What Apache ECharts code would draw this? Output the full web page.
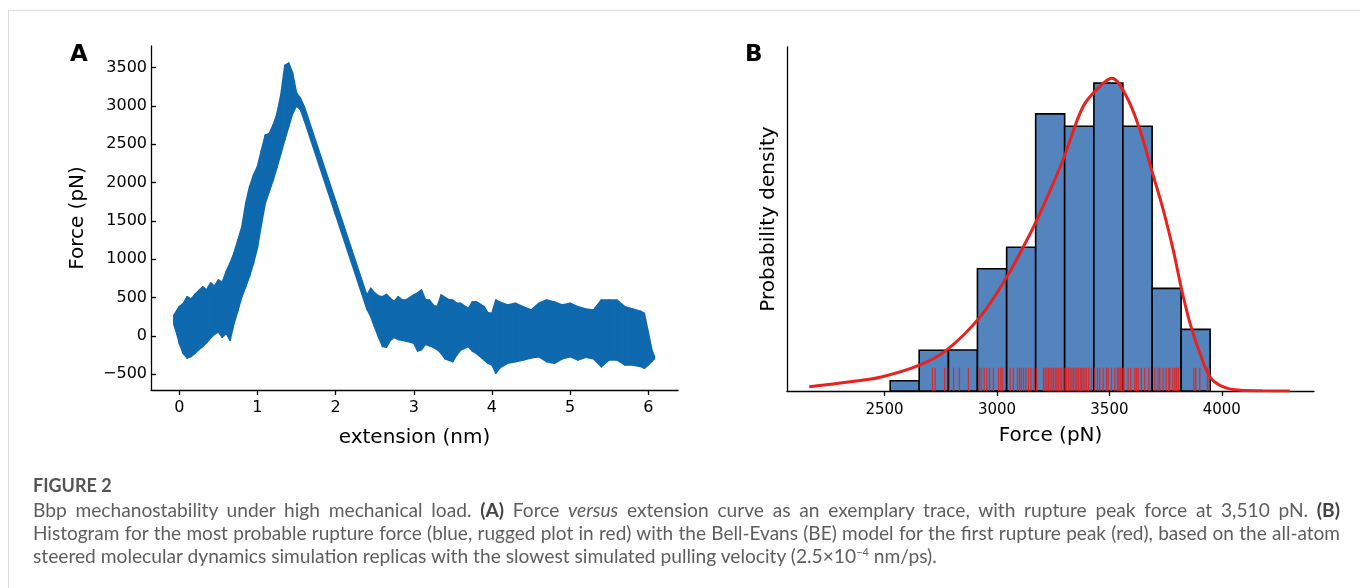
<!DOCTYPE html>
<html>
<head>
<meta charset="utf-8">
<script src="https://cdn.jsdelivr.net/npm/echarts@6/dist/echarts.min.js"></script>
<style>
  html, body { margin: 0; padding: 0; background: #fff; }
  #wrap { position: relative; width: 1360px; height: 588px; overflow: hidden; }
  #chart { position: absolute; left: 0; top: 0; width: 1360px; height: 588px; }
  #frame { position: absolute; left: 8px; top: 10px; width: 1400px; height: 700px;
           border-left: 1px solid #dcdcdc; border-top: 1px solid #dcdcdc; }
  .cap { position: absolute; left: 33px; font-family: Lato, "Open Sans", sans-serif;
         color: #5e5e5e; white-space: nowrap; font-size: 19.2px; line-height: 23px; }
  .cap.just { width: 1307px; white-space: normal; text-align: justify; text-align-last: justify; }
  .cap b { color: #444; }
  #figno { top: 474px; font-size: 18px; font-weight: bold; color: #555; }
</style>
</head>
<body>
<div id="wrap">
  <div id="frame"></div>
  <div id="chart"></div>
  <div class="cap" id="figno">FIGURE 2</div>
  <div class="cap just" style="top:498px">Bbp mechanostability under high mechanical load. <b>(A)</b> Force <i>versus</i> extension curve as an exemplary trace, with rupture peak force at 3,510 pN. <b>(B)</b></div>
  <div class="cap just" style="top:521px;font-size:19px">Histogram for the most probable rupture force (blue, rugged plot in red) with the Bell-Evans (BE) model for the first rupture peak (red), based on the all&#8209;atom</div>
  <div class="cap" style="top:544px">steered molecular dynamics simulation replicas with the slowest simulated pulling velocity (2.5×10<sup style="font-size:11px;line-height:0">−4</sup> nm/ps).</div>
</div>
<script>
// panel A: force trace, read as upper / lower envelope of the noisy band
var extension = [-0.07, -0.03, 0.0, 0.05, 0.1, 0.15, 0.2, 0.25, 0.3, 0.35, 0.4, 0.45, 0.5, 0.55, 0.6, 0.65, 0.7, 0.75, 0.8, 0.85,
  0.9, 0.95, 1.0, 1.05, 1.1, 1.15, 1.2, 1.25, 1.3, 1.35, 1.4, 1.45, 1.5, 1.55, 1.6, 2.0, 2.4, 2.45, 2.5, 2.55,
  2.6, 2.65, 2.7, 2.75, 2.8, 2.85, 2.9, 3.0, 3.05, 3.1, 3.15, 3.2, 3.25, 3.3, 3.35, 3.4, 3.45, 3.5, 3.55, 3.6,
  3.7, 3.75, 3.8, 3.9, 3.95, 4.0, 4.05, 4.1, 4.2, 4.3, 4.4, 4.5, 4.6, 4.7, 4.8, 4.9, 5.0, 5.1, 5.2, 5.3,
  5.4, 5.5, 5.6, 5.7, 5.8, 5.9, 5.95, 6.0, 6.05, 6.08];
var forceUpper = [270, 330, 380, 420, 510, 480, 540, 590, 640, 600, 690, 650, 730, 700, 840, 950, 1080, 1250, 1420, 1730,
  1950, 2100, 2210, 2420, 2620, 2640, 2750, 2900, 3150, 3530, 3560, 3430, 3170, 3100, 2990, 1760, 530, 620, 560, 520,
  511, 540, 490, 450, 511, 470, 468, 533, 560, 598, 470, 468, 400, 380, 533, 500, 470, 467, 424, 424,
  358, 445, 445, 380, 300, 293, 467, 440, 402, 424, 380, 337, 424, 467, 440, 402, 424, 380, 350, 337,
  467, 467, 467, 380, 350, 320, 293, 50, -200, -270];
var forceLower = [150, 20, -100, -230, -290, -270, -230, -180, -140, -90, -30, 20, 50, -20, 30, -60, 160, 330, 510, 640,
  780, 950, 1150, 1450, 1730, 1880, 2030, 2200, 2380, 2560, 2730, 2900, 3000, 2950, 2810, 1580, 350, 250, 110, -20,
  -140, -150, -60, -20, -50, -60, -70, -98, -200, -180, -110, -130, -150, -180, -229, -300, -320, -338, -250, -186,
  -142, -200, -229, -316, -360, -381, -490, -420, -360, -338, -316, -290, -273, -338, -360, -300, -273, -316, -280, -300,
  -403, -316, -316, -381, -381, -400, -425, -380, -330, -300];
var extTicks = [0, 1, 2, 3, 4, 5, 6];
var forceTicksA = [-500, 0, 500, 1000, 1500, 2000, 2500, 3000, 3500];

// panel B: histogram of rupture forces (pN), counts per bin
var binEdges = [2525, 2654, 2784, 2913, 3043, 3172, 3301, 3431, 3560, 3690, 3819, 3948];
var binCounts = [1, 4, 4, 12, 14, 27, 26, 30, 26, 10, 6];
// Bell-Evans fit, probability density in 1e-4 / pN
var beForce = [2165, 2348, 2481, 2658, 2777, 2925, 3044, 3133, 3192, 3294, 3383, 3458, 3511, 3577, 3636, 3688, 3740, 3784,
  3822, 3859, 3903, 3948, 4007, 4081, 4180, 4303];
var beDensity = [0.20, 0.44, 0.65, 1.23, 1.94, 3.50, 5.39, 7.13, 8.41, 10.92, 13.43, 14.39, 14.77, 13.88, 12.32, 10.42, 8.53, 6.65,
  4.76, 3.18, 1.77, 0.66, 0.19, 0.03, 0.01, 0.00];
// rug of individual rupture forces (pN)
var rugForce = [2713, 2725, 2767, 2788, 2807, 2833, 2873, 2921, 2930, 2943, 2955, 2967, 2984, 3007, 3017, 3026, 3059, 3073,
  3091, 3100, 3108, 3118, 3128, 3140, 3151, 3165, 3177, 3207, 3214, 3222, 3229, 3236, 3244, 3251, 3259, 3266, 3273, 3281,
  3288, 3296, 3303, 3310, 3318, 3325, 3333, 3340, 3348, 3355, 3362, 3370, 3376, 3383, 3391, 3398, 3408, 3420, 3435, 3447,
  3457, 3472, 3487, 3494, 3509, 3524, 3536, 3542, 3548, 3553, 3560, 3565, 3583, 3595, 3613, 3620, 3628, 3642, 3657, 3675,
  3702, 3716, 3724, 3739, 3753, 3764, 3768, 3782, 3791, 3798, 3807, 3876, 3884, 3902, 3936, 3944];
var forceTicksB = [2500, 3000, 3500, 4000];

var FONT = 'DejaVu Sans';
var traceColor = '#0f69ae';
var histColor = '#5484be';
var red = '#e8221e';

var total = binCounts.reduce(function (a, b) { return a + b; }, 0);
var histData = binCounts.map(function (c, i) {
  var w = binEdges[i + 1] - binEdges[i];
  return [binEdges[i], binEdges[i + 1], c / (total * w) * 1e4];
});
var rugTop = 1.1;

var chart = echarts.init(document.getElementById('chart'));

var axisLineStyle = { color: '#000', width: 1.3 };
var plain = function (v) { return v < 0 ? '\u2212' + Math.abs(v) : String(v); };

var option = {
  animation: false,
  grid: [
    { left: 151, top: 46, width: 527, height: 344 },
    { left: 787, top: 47, width: 527, height: 344 }
  ],
  graphic: [
    { type: 'text', left: 70, top: 44, style: { text: 'A', font: 'bold 23px "DejaVu Sans"', fill: '#000' } },
    { type: 'text', left: 745, top: 44, style: { text: 'B', font: 'bold 23px "DejaVu Sans"', fill: '#000' } }
  ],
  xAxis: [
    {
      gridIndex: 0, type: 'value', min: -0.362, max: 6.381,
      name: 'extension (nm)', nameLocation: 'middle', nameGap: 38,
      nameTextStyle: { fontSize: 20, color: '#000', fontFamily: FONT },
      axisLine: { show: true, onZero: false, lineStyle: axisLineStyle },
      axisTick: { show: true, customValues: extTicks, length: 5, lineStyle: axisLineStyle },
      axisLabel: { customValues: extTicks, fontSize: 16, color: '#000', fontFamily: FONT, margin: 10, formatter: plain },
      splitLine: { show: false }
    },
    {
      gridIndex: 1, type: 'value', min: 2066, max: 4410,
      name: 'Force (pN)', nameLocation: 'middle', nameGap: 35,
      nameTextStyle: { fontSize: 20, color: '#000', fontFamily: FONT },
      axisLine: { show: true, onZero: false, lineStyle: axisLineStyle },
      axisTick: { show: true, customValues: forceTicksB, length: 5, lineStyle: axisLineStyle },
      axisLabel: { customValues: forceTicksB, fontSize: 15, color: '#000', fontFamily: FONT, margin: 12, formatter: plain },
      splitLine: { show: false }
    }
  ],
  yAxis: [
    {
      gridIndex: 0, type: 'value', min: -708, max: 3783,
      name: 'Force (pN)', nameLocation: 'middle', nameGap: 63,
      nameTextStyle: { fontSize: 20, color: '#000', fontFamily: FONT },
      axisLine: { show: true, onZero: false, lineStyle: axisLineStyle },
      axisTick: { show: true, inside: true, customValues: forceTicksA, length: 5, lineStyle: axisLineStyle },
      axisLabel: { customValues: forceTicksA, fontSize: 16, color: '#000', fontFamily: FONT, margin: 4, formatter: plain },
      splitLine: { show: false }
    },
    {
      gridIndex: 1, type: 'value', min: 0, max: 16.24,
      name: 'Probability density', nameLocation: 'middle', nameGap: 8,
      nameTextStyle: { fontSize: 20, color: '#000', fontFamily: FONT },
      axisLine: { show: true, onZero: false, lineStyle: axisLineStyle },
      axisTick: { show: false },
      axisLabel: { show: false },
      splitLine: { show: false }
    }
  ],
  series: [
    {
      // noisy force trace as a filled band
      type: 'custom', xAxisIndex: 0, yAxisIndex: 0, clip: true,
      data: extension.map(function (e, i) { return [e, forceUpper[i], forceLower[i]]; }),
      encode: { x: 0, y: [1, 2] },
      renderItem: function (params, api) {
        var i = params.dataIndex;
        if (i >= extension.length - 1) return null;
        var pts = [
          api.coord([extension[i], forceUpper[i]]),
          api.coord([extension[i + 1], forceUpper[i + 1]]),
          api.coord([extension[i + 1], forceLower[i + 1]]),
          api.coord([extension[i], forceLower[i]])
        ];
        return { type: 'polygon', shape: { points: pts },
          style: { fill: traceColor, stroke: traceColor, lineWidth: 1.5, lineJoin: 'round' } };
      }
    },
    {
      type: 'custom', xAxisIndex: 1, yAxisIndex: 1, clip: true,
      data: histData,
      encode: { x: [0, 1], y: 2 },
      renderItem: function (params, api) {
        var p0 = api.coord([api.value(0), api.value(2)]);
        var p1 = api.coord([api.value(1), 0]);
        return { type: 'rect', shape: { x: p0[0], y: p0[1], width: p1[0] - p0[0], height: p1[1] - p0[1] },
          style: { fill: histColor, stroke: '#000', lineWidth: 1.6 } };
      }
    },
    {
      type: 'custom', xAxisIndex: 1, yAxisIndex: 1, clip: true,
      data: rugForce.map(function (f) { return [f]; }),
      encode: { x: 0 },
      renderItem: function (params, api) {
        var a = api.coord([api.value(0), 0]);
        var b = api.coord([api.value(0), rugTop]);
        return { type: 'line', shape: { x1: a[0], y1: a[1], x2: b[0], y2: b[1] },
          style: { stroke: red, lineWidth: 1.3, opacity: 0.9 } };
      }
    },
    {
      type: 'line', xAxisIndex: 1, yAxisIndex: 1,
      data: beForce.map(function (f, i) { return [f, beDensity[i]]; }),
      smooth: 0.35, showSymbol: false, z: 5,
      lineStyle: { color: red, width: 3 }
    }
  ]
};
chart.setOption(option);
</script>
</body>
</html>
